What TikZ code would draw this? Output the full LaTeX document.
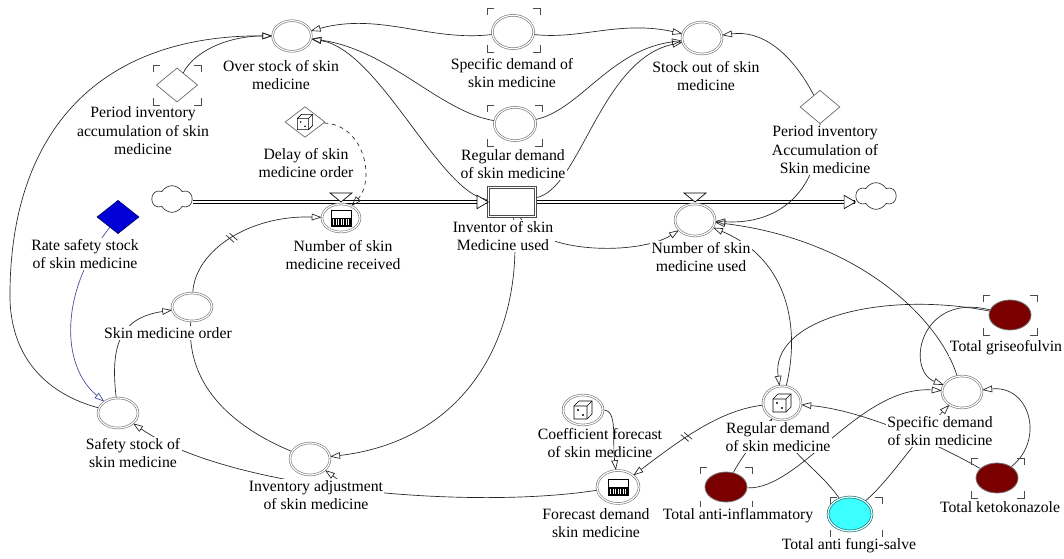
\documentclass[tikz,border=0pt]{standalone}
\usepackage{fontspec}
\setmainfont{Liberation Serif}
\usetikzlibrary{arrows.meta,shapes.geometric,shapes.symbols,decorations.markings}
\pgfdeclarelayer{links}
\pgfsetlayers{links,main}
\definecolor{drugred}{RGB}{122,0,0}
\definecolor{salvecyan}{RGB}{60,255,255}
\definecolor{salveedge}{RGB}{0,120,120}
\definecolor{ratefill}{RGB}{0,0,215}
\definecolor{rateedge}{RGB}{0,0,110}
\definecolor{ratelink}{RGB}{70,70,160}

% corner marks around a shadow variable: left, top, right, bottom
\newcommand\cornerbox[4]{%
  \draw[ghost] ({#1+7},#2) -- (#1,#2) -- (#1,{#2+7});
  \draw[ghost] ({#3-7},#2) -- (#3,#2) -- (#3,{#2+7});
  \draw[ghost] (#1,{#4-7}) -- (#1,#4) -- ({#1+7},#4);
  \draw[ghost] ({#3-7},#4) -- (#3,#4) -- (#3,{#4-7});}

\tikzset{
  conn/.style={draw=black!85, line width=0.5pt, -{Triangle[open, length=7.5pt, width=5pt]}},
  link/.style={draw=black!85, line width=0.5pt},
  aux/.style={ellipse, draw=black!55, line width=0.45pt, double=white, double distance=0.9pt,
    fill=white, inner sep=0pt, minimum width=30pt, minimum height=23pt},
  drug/.style={ellipse, draw=black!55, line width=0.6pt, fill=drugred, inner sep=0pt,
    minimum width=31.5pt, minimum height=22.5pt},
  stockbox/.style={rectangle, draw=black!70, line width=0.5pt, double=white, double distance=1pt,
    fill=white, minimum width=35pt, minimum height=22pt, inner sep=0pt},
  const/.style={diamond, draw=black!60, line width=0.5pt, fill=white, inner sep=0pt,
    minimum width=30pt, minimum height=24pt},
  pipe/.style={draw=black, line width=0.45pt, double=white, double distance=1.6pt},
  cloudsrc/.style={cloud, cloud puffs=6, cloud puff arc=120, aspect=1.6, draw=black!80,
    line width=0.5pt, fill=white, inner sep=0pt, minimum width=30pt, minimum height=20pt},
  tipshape/.style={draw=black, line width=0.5pt, fill=white},
  lbl/.style={align=center, fill=white, inner sep=1pt, font=\fontsize{11.8}{13.9}\selectfont},
  ghost/.style={draw=black!70, line width=0.6pt},
  delayed/.style={postaction={decorate, decoration={markings, mark=at position #1 with
    {\draw[-, solid, black!85, line width=0.5pt] (-2,-5) -- (1,5) (2,-5) -- (5,5);}}}},
  dieicon/.pic={
    \draw[line width=0.5pt, fill=white] (-4,-9) -- (9,-9) -- (9,4) -- (4,9) -- (-9,9) -- (-9,-4) -- cycle;
    \draw[line width=0.5pt] (-9,-4) -- (4,-4) -- (4,9) (4,-4) -- (9,-9);
    \fill (-5,0) circle (1.1);
    \fill (0,5) circle (1.1);
  },
  gridicon/.pic={
    \draw[line width=0.5pt, fill=white] (-10,-8) rectangle (10,8);
    \fill (-10,0) rectangle (10,8);
    \foreach \i in {-7.5,-5,...,7.5} \draw[white, line width=0.5pt] (\i,1.5) -- (\i,7);
  }
}

\begin{document}
\begin{tikzpicture}[x=0.75pt, y=-0.75pt]
\useasboundingbox (0,0) rectangle (1064,559);

% ---------- variables, stock and flows ----------
\node[aux, minimum width=29pt] (overstock) at (292,36) {};
\node[aux, minimum width=31pt, minimum height=25pt] (specTop) at (513,32) {};
\node[aux, minimum height=24pt] (stockout) at (702,38) {};
\node[aux, minimum width=31pt, minimum height=25pt] (regTop) at (515,124) {};
\node[const, minimum width=31pt, minimum height=25.5pt] (periodL) at (177,85) {};
\node[const, minimum height=23pt] (delay) at (305,122) {};
\node[const, minimum height=25pt] (periodR) at (820,107) {};
\node[cloudsrc] (cloudL) at (172,199) {};
\node[cloudsrc] (cloudR) at (876,196) {};
\node[stockbox] (stock) at (512,202) {};
\node[aux, minimum width=28.5pt, minimum height=21pt] (recv) at (341,218) {};
\node[aux, minimum height=24pt] (used) at (695,220) {};
\node[const, fill=ratefill, draw=rateedge, minimum width=31.5pt, minimum height=25pt] (rate) at (118,217) {};
\node[aux, minimum height=21pt] (order) at (192,307) {};
\node[aux, minimum height=22.5pt] (safety) at (118,413) {};
\node[aux, minimum height=24pt] (adjust) at (310,459) {};
\node[aux, minimum height=22.5pt] (coef) at (583,410) {};
\node[aux, minimum width=31.5pt, minimum height=24.75pt] (fcast) at (618,487) {};
\node[aux, minimum width=28.5pt, minimum height=25.5pt] (regLow) at (782,403) {};
\node[aux, minimum height=24pt] (specLow) at (962,392) {};
\node[drug] (griseo) at (1010,315) {};
\node[drug] (keto) at (997,478) {};
\node[drug] (antiinf) at (726,487) {};
\node[ellipse, draw=salveedge, line width=0.5pt, double=white, double distance=0.9pt,
  fill=salvecyan, inner sep=0pt, minimum width=33pt, minimum height=25.5pt] (fungi) at (850,514) {};
\coordinate (adjStub) at (352,490);

% ---------- pipes and links ----------
\begin{pgfonlayer}{links}
\fill[white] (0,0) rectangle (1064,559);
\draw[pipe] (cloudL.east |- stock) -- (stock.west);
\draw[pipe] (stock.east) -- (stock -| cloudR.west);

\draw[conn] (safety) .. controls (50,395) and (8,360) .. (10,290)
  .. controls (12,130) and (100,35) .. (overstock);
\draw[conn] (periodL) .. controls (195,50) and (230,36) .. (overstock);
\draw[conn] (specTop) .. controls (430,42) and (380,12) .. (overstock);
\draw[conn] (regTop) .. controls (440,112) and (390,50) .. (overstock);
\draw[conn] (stock) .. controls (440,195) and (380,50) .. (overstock);
\draw[conn] (stock) .. controls (580,190) and (600,60) .. (stockout);
\draw[conn] (regTop) .. controls (580,110) and (610,50) .. (stockout);
\draw[conn] (specTop) .. controls (580,40) and (620,20) .. (stockout);
\draw[conn] (periodR) .. controls (790,50) and (760,30) .. (stockout);
\draw[conn] (periodR) .. controls (820,190) and (780,225) .. (used);
\draw[conn] (specLow) .. controls (940,320) and (860,240) .. (used);
\draw[conn] (regLow) .. controls (800,330) and (790,260) .. (used);
\draw[conn] (stock) .. controls (540,255) and (640,255) .. (used);
\draw[conn] (stock) .. controls (525,330) and (470,440) .. (adjust);
\draw[conn, delayed=0.42] (order) .. controls (195,250) and (250,215) .. (recv);
\draw[conn, dashed] (delay) .. controls (365,125) and (375,180) .. (recv);
\draw[conn] (safety) .. controls (110,345) and (120,318) .. (order);
\draw[conn, draw=ratelink] (rate) .. controls (60,290) and (60,365) .. (safety);
\draw[link] (adjust) .. controls (240,430) and (185,390) .. (order);
\draw[conn] (fcast) .. controls (470,510) and (230,490) .. (safety);
\draw[conn] (adjStub) -- (adjust);
\draw[conn] (coef) .. controls (618,410) and (612,440) .. (fcast);
\draw[conn, delayed=0.55] (regLow) .. controls (720,410) and (680,440) .. (fcast);
\draw[conn] (griseo) .. controls (880,290) and (770,320) .. (regLow);
\draw[conn] (griseo) .. controls (920,292) and (905,370) .. (specLow);
\draw[conn] (keto) .. controls (1045,440) and (1030,385) .. (specLow);
\draw[conn] (keto) .. controls (930,440) and (860,410) .. (regLow);
\draw[conn] (antiinf) .. controls (745,450) and (765,430) .. (regLow);
\draw[conn] (fungi) .. controls (820,470) and (785,450) .. (regLow);
\draw[conn] (antiinf) .. controls (800,490) and (860,385) .. (specLow);
\draw[conn] (fungi) .. controls (890,480) and (915,440) .. (specLow);
\end{pgfonlayer}

% ---------- flow heads and valve tops ----------
\coordinate (tipL) at (stock.west);
\coordinate (tipR) at (stock -| cloudR.west);
\coordinate (recvTop) at (recv |- stock);
\coordinate (usedTop) at (used |- stock);
\draw[tipshape] (tipL) -- ([xshift=-8.5pt,yshift=5pt]tipL) -- ([xshift=-8.5pt,yshift=-5pt]tipL) -- cycle;
\draw[tipshape] (tipR) -- ([xshift=-8.5pt,yshift=5pt]tipR) -- ([xshift=-8.5pt,yshift=-5pt]tipR) -- cycle;
\draw[tipshape] (recvTop) -- ([xshift=-8.25pt,yshift=6.75pt]recvTop) -- ([xshift=8.25pt,yshift=6.75pt]recvTop) -- cycle;
\draw[tipshape] (usedTop) -- ([xshift=-8.25pt,yshift=6.75pt]usedTop) -- ([xshift=8.25pt,yshift=6.75pt]usedTop) -- cycle;

% ---------- icons ----------
\pic at (coef) {dieicon};
\pic at (regLow) {dieicon};
\pic[scale=0.85] at (delay) {dieicon};
\pic at (recv) {gridicon};
\pic at (fcast) {gridicon};

% ---------- shadow variable marks ----------
\cornerbox{153}{65}{201}{105}
\cornerbox{487}{8}{540}{52}
\cornerbox{487}{105}{542}{146}
\cornerbox{983}{295}{1037}{335}
\cornerbox{971}{458}{1024}{498}
\cornerbox{700}{467}{752}{508}
\cornerbox{830}{497}{882}{537}

% ---------- names ----------
\node[lbl] (overstockL) at (281,75) {Over stock of skin\\medicine};
\node[lbl] (specTopL) at (512,73) {Specific demand of\\skin medicine};
\node[lbl] (stockoutL) at (706,76) {Stock out of skin\\medicine};
\node[lbl] (regTopL) at (513,164) {Regular demand\\of skin medicine};
\node[lbl] (periodLL) at (143,131) {Period inventory\\accumulation of skin\\medicine};
\node[lbl] (delayL) at (306,163) {Delay of skin\\medicine order};
\node[lbl] (periodRL) at (825,150) {Period inventory\\Accumulation of\\Skin medicine};
\node[lbl] (stockL) at (503,236) {Inventor of skin\\Medicine used};
\node[lbl] (recvL) at (343,255) {Number of skin\\medicine received};
\node[lbl] (usedL) at (701,257) {Number of skin\\medicine used};
\node[lbl] (rateL) at (85,254) {Rate safety stock\\of skin medicine};
\node[lbl] (orderL) at (168,333) {Skin medicine order};
\node[lbl] (safetyL) at (133,453) {Safety stock of\\skin medicine};
\node[lbl] (adjustL) at (316,495) {Inventory adjustment\\of skin medicine};
\node[lbl, fill=none] (coefL) at (600,443) {Coefficient forecast\\of skin medicine};
\node[lbl] (fcastL) at (596,523) {Forecast demand\\skin medicine};
\node[lbl] (regLowL) at (778,437) {Regular demand\\of skin medicine};
\node[lbl] (specLowL) at (940,431) {Specific demand\\of skin medicine};
\node[lbl] (griseoL) at (1006,348) {Total griseofulvin};
\node[lbl] (ketoL) at (1000,507) {Total ketokonazole};
\node[lbl] (antiinfL) at (738,516) {Total anti-inflammatory};
\node[lbl] (fungiL) at (849,546) {Total anti fungi-salve};
\end{tikzpicture}
\end{document}
